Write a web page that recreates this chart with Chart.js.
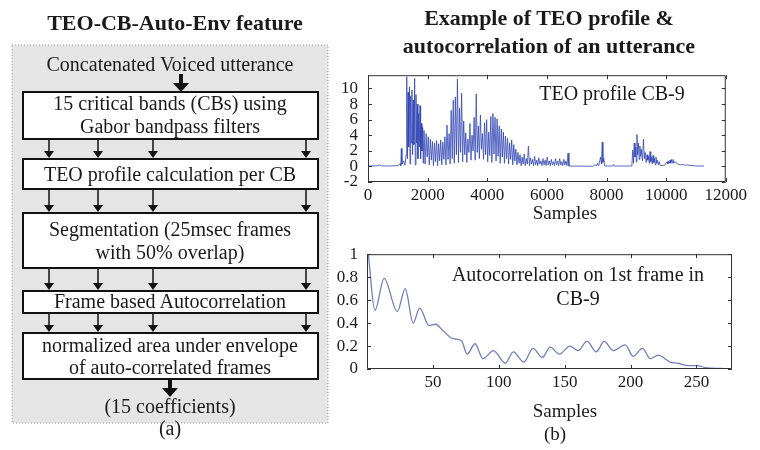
<!DOCTYPE html>
<html>
<head>
<meta charset="utf-8">
<script src="https://cdn.jsdelivr.net/npm/chart.js@4/dist/chart.umd.min.js"></script>
<style>
html, body { margin: 0; padding: 0; background: #fff; }
#page { position: relative; width: 760px; height: 450px; overflow: hidden; }
canvas { position: absolute; }
#teoChart { left: 330px; top: 55px; }
#acfChart { left: 330px; top: 235px; }
svg { position: absolute; left: 0; top: 0; pointer-events: none; }
svg text { font-family: "Liberation Serif", "Times New Roman", serif; fill: #1a1a1a; }
</style>
</head>
<body>
<div id="page">
<canvas id="teoChart" width="420" height="170"></canvas>
<canvas id="acfChart" width="420" height="200"></canvas>

<svg width="760" height="450">
  <!-- (a) flow chart -->
  <text x="175" y="30" font-size="22" font-weight="bold" text-anchor="middle">TEO-CB-Auto-Env feature</text>
  <rect x="12" y="45" width="316" height="378" fill="#e5e5e5" stroke="#9a9a9a" stroke-dasharray="1,2"/>
  <text x="170" y="71" font-size="20" text-anchor="middle">Concatenated Voiced utterance</text>
  <g fill="#111" stroke="#111">
    <line x1="181" y1="74" x2="181" y2="84" stroke-width="4"/>
    <polygon points="173,83 189,83 181,92" stroke="none"/>
  </g>
  <g fill="#fff" stroke="#111" stroke-width="2">
    <rect x="23" y="92" width="295" height="47"/>
    <rect x="23" y="159" width="295" height="30"/>
    <rect x="23" y="213" width="295" height="55"/>
    <rect x="23" y="291" width="295" height="22"/>
    <rect x="23" y="333" width="295" height="46"/>
  </g>
  <g id="arrows" fill="#111" stroke="#111" stroke-width="1.5"></g>
  <g fill="#111" stroke="#111">
    <line x1="170" y1="379" x2="170" y2="389" stroke-width="4"/>
    <polygon points="162,388 178,388 170,397" stroke="none"/>
  </g>
  <g font-size="20" text-anchor="middle">
    <text x="170" y="110">15 critical bands (CBs) using</text>
    <text x="170" y="133">Gabor bandpass filters</text>
    <text x="170" y="181">TEO profile calculation per CB</text>
    <text x="170" y="236">Segmentation (25msec frames</text>
    <text x="170" y="259">with 50% overlap)</text>
    <text x="170" y="308">Frame based Autocorrelation</text>
    <text x="170" y="352">normalized area under envelope</text>
    <text x="170" y="374">of auto-correlated frames</text>
    <text x="170" y="413">(15 coefficients)</text>
    <text x="170" y="435">(a)</text>
  </g>

  <!-- (b) plots -->
  <g font-size="22" font-weight="bold" text-anchor="middle">
    <text x="549" y="25">Example of TEO profile &amp;</text>
    <text x="549" y="53">autocorrelation of an utterance</text>
  </g>
  <g font-size="20" text-anchor="middle">
    <text x="612" y="100">TEO profile CB-9</text>
    <text x="578" y="281">Autocorrelation on 1st frame in</text>
    <text x="578" y="305">CB-9</text>
  </g>
  <g font-size="19" text-anchor="middle">
    <text x="565" y="219">Samples</text>
    <text x="565" y="417">Samples</text>
    <text x="555" y="440">(b)</text>
  </g>
</svg>
</div>

<script>
// ---------------------- data ---------------------
var teoXTicks = [0, 2000, 4000, 6000, 8000, 10000, 12000];
var teoYTicks = [-2, 0, 2, 4, 6, 8, 10];
var acfXTicks = [50, 100, 150, 200, 250];
var acfYTicks = [0, 0.2, 0.4, 0.6, 0.8, 1];

// TEO profile of CB-9, [sample, value] (peaks and troughs)
var teoProfile = [
  [0,0.05],[300,0.08],[380,0.18],[450,0.07],[700,0.05],[1000,0.1],[1080,0.35],[1100,0.1],
  [1117,2.3],[1140,0.3],[1200,0.7],[1240,0.15],[1280,1.5],
  [1300,11.5],[1320,1.0],[1345,9.5],[1365,2.5],[1390,10.2],[1410,0.3],[1430,9.0],[1450,3.0],
  [1475,9.8],[1495,1.5],[1520,8.5],[1540,2.8],[1565,11.3],[1585,0.2],[1610,9.2],[1630,3.0],
  [1655,8.0],[1675,1.0],[1700,6.8],[1720,2.5],[1745,7.8],[1765,1.0],[1790,5.5],[1810,2.0],
  [1835,5.0],[1855,0.4],[1880,4.6],[1915,0.3],[1950,4.2],[1985,1.2],[2020,3.8],[2055,0.2],
  [2090,3.5],[2125,0.8],[2160,3.2],[2195,0.1],[2230,3.0],[2265,0.6],[2300,3.3],[2335,0.1],
  [2370,2.9],[2405,0.7],[2440,3.4],[2475,0.2],[2510,3.1],[2545,0.9],[2580,3.8],[2615,0.2],
  [2650,5.3],[2685,0.9],[2720,4.2],[2755,0.3],[2790,7.2],[2825,1.0],[2860,8.5],[2895,0.4],
  [2930,8.9],[2965,1.5],[3000,11.2],[3035,0.5],[3070,7.5],[3105,1.8],[3140,9.4],[3175,0.6],
  [3210,5.8],[3245,1.5],[3280,4.3],[3315,0.5],[3350,3.5],[3385,1.8],[3420,5.5],[3455,0.8],
  [3490,4.0],[3525,2.0],[3560,6.3],[3595,0.8],[3630,9.3],[3665,1.8],[3700,5.2],[3735,1.0],
  [3770,6.6],[3805,2.2],[3840,4.2],[3875,0.9],[3910,5.6],[3945,1.5],[3980,6.0],[4015,0.6],
  [4050,4.4],[4085,1.4],[4120,6.4],[4155,0.5],[4190,6.8],[4225,1.6],[4260,6.3],[4295,0.7],
  [4330,6.1],[4365,1.3],[4400,5.2],[4435,0.4],[4470,4.8],[4505,1.2],[4540,4.4],[4575,0.4],
  [4610,3.9],[4645,1.0],[4680,3.6],[4715,0.3],[4750,3.0],[4785,0.9],[4820,3.4],[4855,0.2],
  [4890,2.8],[4925,0.7],[4960,2.2],[4995,0.2],[5030,1.8],[5065,0.4],[5100,1.5],[5135,0.1],
  [5170,1.2],[5205,0.3],[5240,1.6],[5275,0.1],[5310,1.0],[5345,0.3],[5380,2.6],[5415,0.1],
  [5450,1.1],[5485,0.3],[5520,0.9],[5555,0.1],[5590,1.3],[5625,0.2],[5660,0.8],[5695,0.1],
  [5730,1.1],[5765,0.3],[5800,0.7],[5835,0.1],[5870,1.0],[5905,0.2],[5940,0.8],[5975,0.1],
  [6010,1.2],[6045,0.2],[6080,0.7],[6115,0.1],[6150,0.9],[6185,0.2],[6220,0.6],[6255,0.1],
  [6290,1.0],[6325,0.2],[6360,0.7],[6395,0.1],[6430,1.0],[6465,0.2],[6500,0.6],[6535,0.1],
  [6570,0.9],[6605,0.2],[6640,0.7],[6675,0.1],[6710,1.7],[6740,0.05],
  [7550,0.02],[7620,0.25],[7660,0.05],[7700,0.4],[7740,0.1],[7800,1.2],[7830,0.3],[7857,3.1],
  [7880,0.5],[7910,1.0],[7940,0.05],[8200,0.05],[8230,0.25],[8260,0.05],[8850,0.05],
  [8880,2.1],[8905,0.4],[8930,3.0],[8955,1.2],[8980,2.5],[9000,0.6],[9020,4.1],[9045,1.5],
  [9070,3.0],[9095,0.9],[9120,2.6],[9145,1.3],[9170,2.2],[9205,0.7],[9240,3.5],[9270,1.0],
  [9300,1.8],[9330,0.5],[9360,1.5],[9385,0.8],[9410,1.3],[9435,0.4],[9460,1.9],[9485,0.6],
  [9510,1.2],[9535,0.3],[9560,1.4],[9585,0.5],[9610,1.0],[9635,0.2],[9660,1.2],[9685,0.4],
  [9710,0.8],[9740,0.2],[9770,0.6],[9800,0.1],
  [9950,0.15],[10030,0.6],[10055,0.3],[10080,0.7],[10105,0.4],[10130,0.8],[10155,0.4],[10180,0.9],
  [10205,0.5],[10230,0.9],[10255,0.4],[10280,0.6],[10330,0.5],[10400,0.3],[10480,0.2],[10560,0.25],
  [10640,0.15],[10720,0.2],[10800,0.12],[10900,0.1],[11000,0.05],[11270,0.05]
];

// autocorrelation on 1st frame of CB-9
var acfLag = [1, 6, 13, 23, 29, 35, 40, 47, 52, 58, 64, 68, 72, 76, 82, 88, 96, 105, 111, 119, 126,
  133, 139, 146, 154, 160, 167, 174, 180, 187, 196, 202, 209, 215, 221, 230, 236, 244, 250, 258, 268, 276];
var acfValue = [1.0, 0.51, 0.79, 0.50, 0.70, 0.40, 0.53, 0.38, 0.39, 0.33, 0.27, 0.26, 0.24, 0.13, 0.22,
  0.09, 0.16, 0.05, 0.15, 0.06, 0.18, 0.10, 0.19, 0.13, 0.20, 0.16, 0.24, 0.15, 0.24, 0.16, 0.21,
  0.11, 0.18, 0.09, 0.12, 0.06, 0.05, 0.03, 0.03, 0.01, 0.005, 0];

// ---------------------- flow chart arrows ---------------------
var arrowCols = [49, 98, 153, 306];
var arrowGaps = [[139, 159], [189, 213], [268, 291], [313, 333]];
var svgNS = 'http://www.w3.org/2000/svg';
var arrowGroup = document.getElementById('arrows');
arrowGaps.forEach(function (g) {
  arrowCols.forEach(function (x) {
    var ln = document.createElementNS(svgNS, 'line');
    ln.setAttribute('x1', x); ln.setAttribute('x2', x);
    ln.setAttribute('y1', g[0]); ln.setAttribute('y2', g[1] - 5);
    arrowGroup.appendChild(ln);
    var hd = document.createElementNS(svgNS, 'polygon');
    hd.setAttribute('points', (x - 5) + ',' + (g[1] - 8) + ' ' + (x + 5) + ',' + (g[1] - 8) + ' ' + x + ',' + (g[1] - 1));
    hd.setAttribute('stroke', 'none');
    arrowGroup.appendChild(hd);
  });
});

// ---------------------- charts ---------------------
Chart.defaults.font.family = "'Liberation Serif', 'Times New Roman', serif";
Chart.defaults.font.size = 17;
Chart.defaults.color = '#1a1a1a';

// matlab style box with inward ticks
var frameBox = {
  id: 'frameBox',
  afterDraw: function (chart) {
    var ctx = chart.ctx, a = chart.chartArea, sx = chart.scales.x, sy = chart.scales.y;
    ctx.save();
    ctx.strokeStyle = '#333';
    ctx.lineWidth = 1;
    ctx.beginPath();
    ctx.rect(a.left + 0.5, a.top + 0.5, a.right - a.left - 1, a.bottom - a.top - 1);
    sx.ticks.forEach(function (t) {
      var p = Math.round(sx.getPixelForValue(t.value)) + 0.5;
      ctx.moveTo(p, a.bottom); ctx.lineTo(p, a.bottom - 4);
      ctx.moveTo(p, a.top); ctx.lineTo(p, a.top + 4);
    });
    sy.ticks.forEach(function (t) {
      var p = Math.round(sy.getPixelForValue(t.value)) + 0.5;
      ctx.moveTo(a.left, p); ctx.lineTo(a.left + 4, p);
      ctx.moveTo(a.right, p); ctx.lineTo(a.right - 4, p);
    });
    ctx.stroke();
    ctx.restore();
  }
};

function fixedTicks(list) {
  return function (scale) { scale.ticks = list.map(function (v) { return { value: v }; }); };
}
function plainLabel(v) { return String(v); }

new Chart('teoChart', {
  type: 'line',
  data: {
    datasets: [{
      data: teoProfile.map(function (p) { return { x: p[0], y: p[1] }; }),
      borderColor: 'rgba(50,70,180,0.8)',
      borderWidth: 1,
      pointRadius: 0,
      tension: 0
    }]
  },
  options: {
    responsive: false,
    animation: false,
    layout: { padding: { left: 0, right: 20, top: 4, bottom: 0 } },
    plugins: { legend: { display: false }, tooltip: { enabled: false } },
    scales: {
      x: {
        type: 'linear', min: 0, max: 12000,
        afterBuildTicks: fixedTicks(teoXTicks),
        afterFit: function (s) { s.height = 43; },
        grid: { display: false, drawTicks: false },
        border: { display: false },
        ticks: { padding: 3, maxRotation: 0, autoSkip: false, callback: plainLabel }
      },
      y: {
        min: -2, max: 11.7,
        afterBuildTicks: fixedTicks(teoYTicks),
        afterFit: function (s) { s.width = 38; },
        grid: { display: false, drawTicks: false },
        border: { display: false },
        ticks: { padding: 10, autoSkip: false, callback: plainLabel }
      }
    }
  },
  plugins: [frameBox]
});

new Chart('acfChart', {
  type: 'line',
  data: {
    datasets: [{
      data: acfLag.map(function (l, i) { return { x: l, y: acfValue[i] }; }),
      borderColor: '#6f7fb8',
      borderWidth: 1.3,
      pointRadius: 0,
      cubicInterpolationMode: 'monotone'
    }]
  },
  options: {
    responsive: false,
    animation: false,
    layout: { padding: { left: 0, right: 18, top: 9, bottom: 0 } },
    plugins: { legend: { display: false }, tooltip: { enabled: false } },
    scales: {
      x: {
        type: 'linear', min: 0, max: 277,
        afterBuildTicks: fixedTicks(acfXTicks),
        afterFit: function (s) { s.height = 66; },
        grid: { display: false, drawTicks: false },
        border: { display: false },
        ticks: { padding: 3, maxRotation: 0, autoSkip: false, callback: plainLabel }
      },
      y: {
        min: 0, max: 1,
        afterBuildTicks: fixedTicks(acfYTicks),
        afterFit: function (s) { s.width = 37; },
        grid: { display: false, drawTicks: false },
        border: { display: false },
        ticks: { padding: 9, autoSkip: false, callback: plainLabel }
      }
    }
  },
  plugins: [frameBox]
});
</script>
</body>
</html>
